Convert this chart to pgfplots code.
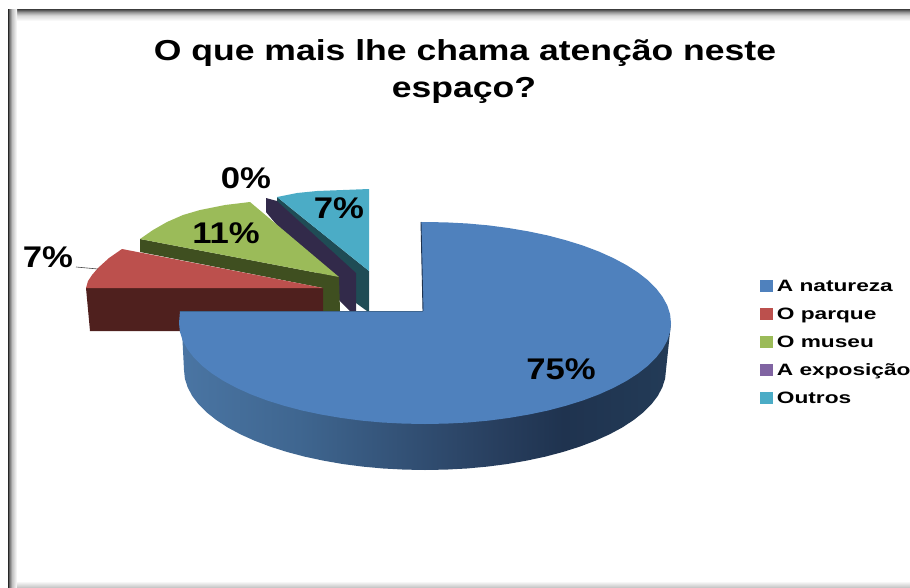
\documentclass[border=0pt]{standalone}
\usepackage{fontspec}
\usepackage{pgfplots}
\pgfplotsset{compat=1.18}
\setmainfont{Liberation Sans}
\newfontfamily\titlefont[FakeStretch=1.23]{Liberation Sans}
\newfontfamily\stretchedfont[FakeStretch=1.16]{Liberation Sans}
\newfontfamily\legendfont[FakeStretch=1.38]{Liberation Sans}
\definecolor{blueTop}{HTML}{4F81BD}
\definecolor{redTop}{HTML}{BC504D}
\definecolor{redSide}{HTML}{4F201E}
\definecolor{greenTop}{HTML}{9BBB59}
\definecolor{greenSide}{HTML}{3F4F20}
\definecolor{purpleTop}{HTML}{8064A2}
\definecolor{purpleSide}{HTML}{322A4A}
\definecolor{tealTop}{HTML}{4BACC6}
\definecolor{tealSide}{HTML}{1F4C55}
\definecolor{w0}{HTML}{4A75A3}
\definecolor{w1}{HTML}{3F6690}
\definecolor{w2}{HTML}{283F5F}
\definecolor{w3}{HTML}{1F334F}
\definecolor{w4}{HTML}{233B57}
\pgfdeclarehorizontalshading{wallshade}{100bp}{color(0bp)=(w0); color(25bp)=(w0); color(37bp)=(w1); color(57bp)=(w2); color(64bp)=(w3); color(75bp)=(w4); color(100bp)=(w4)}
\pgfdeclarehorizontalshading{rimleft}{100bp}{color(0bp)=(black!85); color(25bp)=(black!85); color(31bp)=(black!60); color(47bp)=(black!25); color(75bp)=(white); color(100bp)=(white)}
\pgfdeclareverticalshading{rimtop}{100bp}{color(0bp)=(white); color(25bp)=(white); color(50bp)=(black!15); color(65bp)=(black!40); color(75bp)=(black!65); color(100bp)=(black!65)}
\pgfplotsset{poly/.style={forget plot, draw=none, mark=none, solid}}
\begin{document}
\begin{tikzpicture}
\begin{axis}[
  scale only axis, width=910bp, height=588bp,
  xmin=0, xmax=910, ymin=0, ymax=588, y dir=reverse,
  hide axis, clip=false,
  legend cell align=left,
  legend image code/.code={\fill[#1] (0bp,-5.5bp) rectangle (11.5bp,5.5bp);},
  legend style={at={(axis cs:760,280)}, anchor=north west, draw=none, fill=none,
    inner sep=0pt, outer sep=0pt, row sep=16.5bp,
    /tikz/every odd column/.append style={column sep=5bp},
    font=\legendfont\bfseries\fontsize{16.5}{18}\selectfont,
    nodes={inner sep=0pt, outer sep=0pt, text depth=0pt}},
]
% frame
\addplot[poly, shading=rimtop] coordinates {(8,10) (910,10) (910,21) (8,21)} -- cycle;
\addplot[poly, shading=rimleft] coordinates {(8,10) (17,10) (17,588) (8,588)} -- cycle;
\addplot[poly, top color=white, bottom color=black!25] coordinates {(17,581) (910,581) (910,588) (17,588)} -- cycle;

% teal slice
\addplot[poly, fill=tealSide] coordinates {(277,197) (369,271) (369,311) (367,311) (356,303) (277,210)} -- cycle;
\addplot[poly, fill=tealTop] coordinates {(277,197) (297,193) (317,191) (343,190) (369,189) (369,271)} -- cycle;
% purple slice
\addplot[poly, fill=purpleSide] coordinates {(266,198) (277,201) (356,273) (356,311) (350,311) (340,301) (266,212)} -- cycle;
% green slice
\addplot[poly, fill=greenSide] coordinates {(140,239) (339,277) (340,311) (323,311) (323,288) (140,252)} -- cycle;
\addplot[poly, fill=greenTop] coordinates {(140,239) (153,230) (167,222) (183,215) (200,210) (225,205) (250,202) (339,277)} -- cycle;
% red slice
\addplot[poly, fill=redSide] coordinates {(86,288) (323,288) (323,331) (90,331)} -- cycle;
\addplot[poly, fill=redTop] coordinates {(86,288) (88,281) (92,275) (98,268) (109,258) (122,249) (323,288)} -- cycle;
% big slice: wall
\addplot[poly, shading=wallshade] coordinates {(181,311) (184,370) (184.9,378.7) (187.7,387.4) (192.2,395.9) (198.5,404.2) (206.6,412.3) (216.3,420) (227.6,427.4) (240.4,434.3) (254.6,440.7) (270.1,446.6) (286.8,451.9) (304.5,456.6) (323.2,460.6) (342.6,464) (362.6,466.6) (383.2,468.5) (404,469.6) (425,470) (446,469.6) (466.8,468.5) (487.4,466.6) (507.4,464) (526.8,460.6) (545.5,456.6) (563.2,451.9) (579.9,446.6) (595.4,440.7) (609.6,434.3) (622.4,427.4) (633.7,420) (643.4,412.3) (651.5,404.2) (657.8,395.9) (662.3,387.4) (665.1,378.7) (666,370) (671,323)} -- cycle;
% big slice: top
\addplot[poly, fill=blueTop] coordinates {(421,222) (425,222) (446.4,222.4) (467.7,223.5) (488.7,225.4) (509.1,228.1) (529,231.5) (548,235.5) (566.1,240.3) (583.1,245.6) (599,251.6) (613.4,258.1) (626.5,265.1) (638,272.5) (648,280.3) (656.2,288.5) (662.6,296.9) (667.3,305.5) (670.1,314.2) (671,323) (670.1,331.8) (667.3,340.5) (662.6,349.1) (656.2,357.5) (648,365.7) (638,373.5) (626.5,380.9) (613.4,387.9) (599,394.4) (583.1,400.4) (566.1,405.7) (548,410.5) (529,414.5) (509.1,417.9) (488.7,420.6) (467.7,422.5) (446.4,423.6) (425,424) (403.6,423.6) (382.3,422.5) (361.3,420.6) (340.9,417.9) (321,414.5) (302,410.5) (283.9,405.7) (266.9,400.4) (251,394.4) (236.6,387.9) (223.5,380.9) (212,373.5) (202,365.7) (193.8,357.5) (187.4,349.1) (182.7,340.5) (179.9,331.8) (179,323) (180,311) (423,311)} -- cycle;
% big slice: cut edges
\addplot[forget plot, mark=none, solid, draw=w3, line width=0.9pt] coordinates {(421,222) (423,311)};
\addplot[forget plot, mark=none, solid, draw=w1, line width=0.5pt] coordinates {(180,311) (423,311)};
% leader line
\addplot[forget plot, mark=none, solid, draw=black!70, line width=0.6pt] coordinates {(76,267) (98,269)};

% legend
\addlegendimage{blueTop}\addlegendentry{A natureza}
\addlegendimage{redTop}\addlegendentry{O parque}
\addlegendimage{greenTop}\addlegendentry{O museu}
\addlegendimage{purpleTop}\addlegendentry{A exposição}
\addlegendimage{tealTop}\addlegendentry{Outros}

% texts
\node[font=\titlefont\bfseries\fontsize{29}{33}\selectfont, inner sep=0pt] at (axis cs:465,53) {O que mais lhe chama atenção neste};
\node[font=\titlefont\bfseries\fontsize{29}{33}\selectfont, inner sep=0pt] at (axis cs:464,90) {espaço?};
\tikzset{lbl/.style={font=\stretchedfont\bfseries\fontsize{30}{32}\selectfont, inner sep=0pt}}
\node[lbl] at (axis cs:561,369) {75\%};
\node[lbl] at (axis cs:226,233) {11\%};
\node[lbl] at (axis cs:339,208) {7\%};
\node[lbl] at (axis cs:246,178) {0\%};
\node[lbl] at (axis cs:48,257) {7\%};
\end{axis}
\pgfresetboundingbox
\path[use as bounding box] (0,0) rectangle (910bp,588bp);
\end{tikzpicture}
\end{document}
